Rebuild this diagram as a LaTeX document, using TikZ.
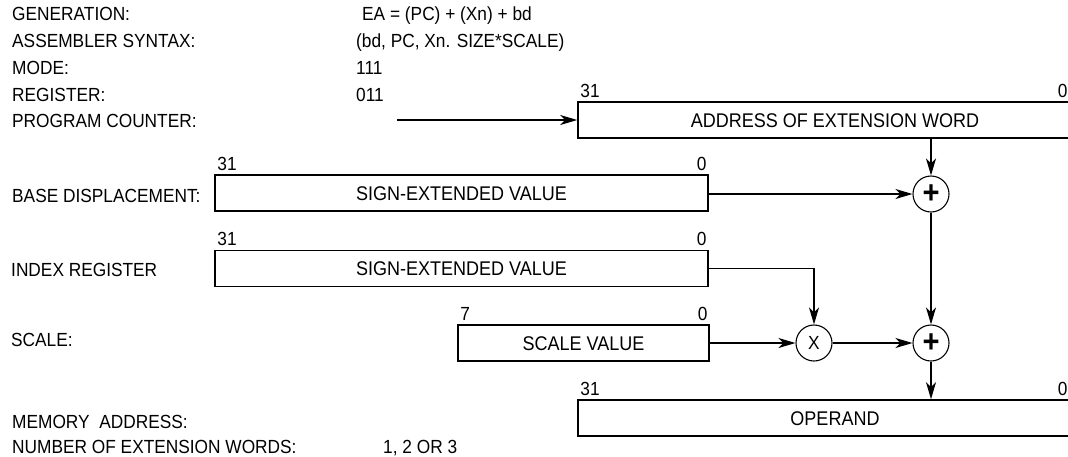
\documentclass[tikz,border=0pt]{standalone}
\usepackage{fontspec}
\setmainfont{Liberation Sans}[FakeStretch=0.91]
\usetikzlibrary{arrows.meta}
\tikzset{hi/.style={label={[num, anchor=south west, xshift=3pt]north west:#1}},
         lo/.style={label={[num, anchor=south east, xshift=-2pt]north east:#1}},
         cutlo/.style={label={[num, anchor=south east, xshift=-25pt]north east:#1}}}
\begin{document}
\begin{tikzpicture}[x=1pt, y=-1pt, font=\fontsize{19}{22}\selectfont]
\tikzstyle{txt}=[anchor=west, inner sep=0pt, text height=13.6pt, text depth=0pt]
\tikzstyle{reg}=[draw, line width=1.6pt, minimum height=36pt, inner sep=0pt,
                 text height=14pt, text depth=0pt, font=\fontsize{19.8}{22}\selectfont]
\tikzstyle{num}=[inner sep=0pt, yshift=4pt, text depth=0pt]
\tikzstyle{op}=[draw, circle, line width=1.1pt, minimum size=36pt, inner sep=0pt]
\tikzstyle{arr}=[line width=1.2pt, -{Stealth[length=17pt, width=10pt, inset=5pt]}]
\useasboundingbox (0,0) rectangle (1068,456);
  % labels
  \foreach \place/\name/\lbl in {{(12,14)/gen/GENERATION:},
                                 {(12,41)/syn/ASSEMBLER SYNTAX:},
                                 {(12,68)/mode/MODE:},
                                 {(12,95)/regno/REGISTER:},
                                 {(12,121)/pc/PROGRAM COUNTER:},
                                 {(12,196)/bd/BASE DISPLACEMENT:},
                                 {(11,270)/xn/INDEX REGISTER},
                                 {(11,340)/sc/SCALE:},
                                 {(12,422)/mem/MEMORY\ \ ADDRESS:},
                                 {(12,447)/ext/NUMBER OF EXTENSION WORDS:},
                                 {(362,14)/genv/EA = (PC) + (Xn) + bd},
                                 {(356,41)/synv/{(bd, PC, Xn. SIZE*SCALE)}},
                                 {(356,68)/modev/111},
                                 {(356,95)/regnov/011},
                                 {(383,447)/extv/{1, 2 OR 3}}}
    \node[txt] (\name) at \place {\lbl};
  % registers
  \node[reg, hi=31, cutlo=0, minimum width=514pt] (addr) at (835,120) {ADDRESS OF EXTENSION WORD};
  \node[reg, hi=31, lo=0, minimum width=493pt] (base) at (461.5,193) {SIGN-EXTENDED VALUE};
  \node[reg, hi=31, lo=0, minimum width=493pt] (idx) at (461.5,268.5) {SIGN-EXTENDED VALUE};
  \node[reg, hi=7, lo=0, minimum width=251pt] (scl) at (583.5,343) {SCALE VALUE};
  \node[reg, hi=31, cutlo=0, minimum width=514pt] (opd) at (835,418) {OPERAND};
  % operators
  \node[op, font=\fontsize{32}{32}\selectfont\bfseries] (sum1) at (931,194) {+};
  \node[op, font=\fontsize{32}{32}\selectfont\bfseries] (sum2) at (931,343) {+};
  \node[op] (mul) at (814,343) {X};
  \coordinate (pcin) at (397,120);
  % connections
  \draw[arr] (pcin) -- (addr);
  \draw[arr] (addr.south -| sum1) -- (sum1);
  \draw[arr] (base.east |- sum1) -- (sum1);
  \draw[arr] (idx.east) -| (mul);
  \foreach \source/\dest in {scl/mul,mul/sum2,sum1/sum2}
    \path[arr] (\source) edge (\dest);
  \draw[arr] (sum2) -- (sum2 |- opd.north);
\end{tikzpicture}
\end{document}
